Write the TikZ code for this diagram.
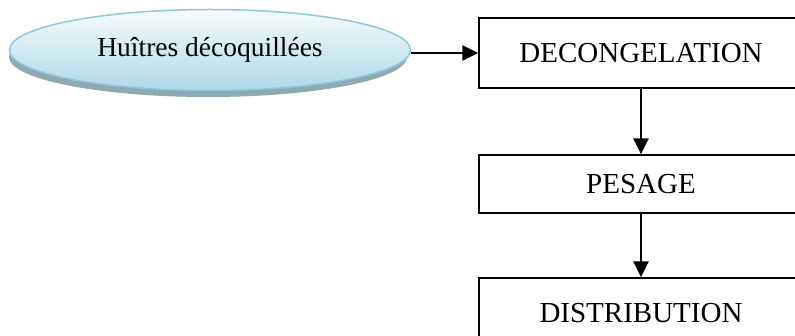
\documentclass[tikz,border=0pt]{standalone}
\usepackage{fontspec}
\setmainfont{Liberation Serif}
\usetikzlibrary{arrows.meta,shapes.geometric}
\definecolor{rimblue}{HTML}{8CCADB}
\definecolor{toplight}{HTML}{F6FBFC}
\definecolor{bottomblue}{HTML}{ADD9E6}
\definecolor{shadowgrey}{HTML}{8FA9B0}
\tikzset{
  stepbox/.style={draw=black, line width=1.3pt, minimum width=324pt, inner sep=0pt,
    font=\fontsize{29}{33}\selectfont},
  flow/.style={line width=2.4pt, -{Triangle[length=16pt,width=15pt]}},
}
\begin{document}
\begin{tikzpicture}[x=1pt,y=-1pt]
  \useasboundingbox (0,0) rectangle (795,336);
  \clip (0,0) rectangle (795,336);
  % drop shadow under the source ellipse
  \fill[shadowgrey] (208,57) ellipse [x radius=199, y radius=40];
  % source ellipse
  \node (src) [ellipse, draw=rimblue, line width=1.5pt, top color=toplight, bottom color=bottomblue,
    minimum width=401pt, minimum height=81pt, inner sep=0pt,
    font=\fontsize{27.5}{31}\selectfont] at (210,50) {Huîtres décoquillées};
  % process steps
  \node (dec) [stepbox, minimum height=70pt] at (641,53) {DECONGELATION};
  \node (pes) [stepbox, minimum height=58pt] at (641,184) {PESAGE};
  \node (dis) [stepbox, minimum height=70pt] at (641,313) {DISTRIBUTION};
  % connectors
  \draw[flow] (src.east |- dec.west) -- (dec.west);
  \draw[flow] (dec.south) -- (pes.north);
  \draw[flow] (pes.south) -- (dis.north);
\end{tikzpicture}
\end{document}
